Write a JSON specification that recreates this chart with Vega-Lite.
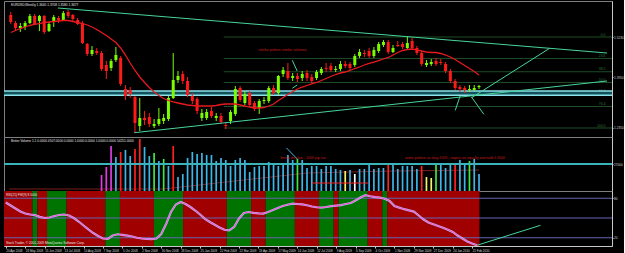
{
"$schema":"https://vega.github.io/schema/vega-lite/v6.json",
"background":"#000000",
"padding":0,
"spacing":0,
"bounds":"flush",
"config":{"font":"Liberation Sans","view":{"stroke":"#7f7f7f","strokeWidth":1},
"axis":{"grid":false,"labelFont":"Liberation Sans","labelFontSize":3.2,"labelColor":"#d0d0d0","domainColor":"#c8c8c8","tickColor":"#c8c8c8","tickSize":1,"labelPadding":0.5,"title":null,"labelOverlap":false,"labelBound":false,"labelFlush":false}},
"resolve":{"scale":{"x":"independent","y":"independent","color":"independent"},"axis":{"x":"independent","y":"independent"}},
"datasets":{
"candles":[
{"d":"2008-04-20","o":1.5936,"h":1.6032,"l":1.5650,"c":1.5713,"ma":1.5379,"osc":73.6},
{"d":"2008-04-27","o":1.5681,"h":1.5745,"l":1.5458,"c":1.5522,"ma":1.5442,"osc":69.0},
{"d":"2008-05-04","o":1.5522,"h":1.5681,"l":1.5395,"c":1.5586,"ma":1.5506,"osc":64.4},
{"d":"2008-05-11","o":1.5554,"h":1.5745,"l":1.5458,"c":1.5681,"ma":1.5554,"osc":59.9},
{"d":"2008-05-18","o":1.5681,"h":1.5968,"l":1.5650,"c":1.5904,"ma":1.5602,"osc":56.9},
{"d":"2008-05-25","o":1.5904,"h":1.5968,"l":1.5618,"c":1.5650,"ma":1.5634,"osc":55.3},
{"d":"2008-06-01","o":1.5745,"h":1.5936,"l":1.5427,"c":1.5904,"ma":1.5665,"osc":54.3},
{"d":"2008-06-08","o":1.5904,"h":1.5936,"l":1.5331,"c":1.5395,"ma":1.5697,"osc":51.8},
{"d":"2008-06-15","o":1.5427,"h":1.5713,"l":1.5395,"c":1.5650,"ma":1.5713,"osc":50.0},
{"d":"2008-06-22","o":1.5713,"h":1.5936,"l":1.5554,"c":1.5872,"ma":1.5729,"osc":50.8},
{"d":"2008-06-29","o":1.5841,"h":1.5904,"l":1.5681,"c":1.5777,"ma":1.5745,"osc":53.1},
{"d":"2008-07-06","o":1.5777,"h":1.6064,"l":1.5745,"c":1.6000,"ma":1.5761,"osc":54.6},
{"d":"2008-07-13","o":1.6032,"h":1.6095,"l":1.5841,"c":1.5904,"ma":1.5761,"osc":55.3},
{"d":"2008-07-20","o":1.5936,"h":1.5968,"l":1.5745,"c":1.5809,"ma":1.5729,"osc":53.8},
{"d":"2008-07-27","o":1.5777,"h":1.5841,"l":1.5618,"c":1.5650,"ma":1.5697,"osc":50.0},
{"d":"2008-08-03","o":1.5681,"h":1.5745,"l":1.5013,"c":1.5045,"ma":1.5665,"osc":44.7},
{"d":"2008-08-10","o":1.5013,"h":1.5045,"l":1.4631,"c":1.4694,"ma":1.5618,"osc":38.6},
{"d":"2008-08-17","o":1.4694,"h":1.4949,"l":1.4631,"c":1.4822,"ma":1.5554,"osc":32.6},
{"d":"2008-08-24","o":1.4790,"h":1.4885,"l":1.4662,"c":1.4726,"ma":1.5474,"osc":27.2},
{"d":"2008-08-31","o":1.4726,"h":1.4790,"l":1.4153,"c":1.4217,"ma":1.5379,"osc":22.7,"v":16000,"vt":"cc"},
{"d":"2008-09-07","o":1.4344,"h":1.4471,"l":1.3898,"c":1.4153,"ma":1.5283,"osc":18.9,"v":24000,"vt":"cc"},
{"d":"2008-09-14","o":1.4248,"h":1.4535,"l":1.4153,"c":1.4471,"ma":1.5172,"osc":18.4,"v":45000,"vt":"cc"},
{"d":"2008-09-21","o":1.4503,"h":1.4917,"l":1.4439,"c":1.4662,"ma":1.5060,"osc":23.4,"v":34000,"vt":"n"},
{"d":"2008-09-28","o":1.4567,"h":1.4631,"l":1.3675,"c":1.3739,"ma":1.4885,"osc":25.3,"v":39000,"vt":"cl"},
{"d":"2008-10-05","o":1.3580,"h":1.3707,"l":1.3229,"c":1.3357,"ma":1.4662,"osc":24.5,"v":41000,"vt":"n"},
{"d":"2008-10-12","o":1.3548,"h":1.3643,"l":1.3293,"c":1.3420,"ma":1.4408,"osc":23.3,"v":35000,"vt":"n"},
{"d":"2008-10-19","o":1.3325,"h":1.3357,"l":1.2178,"c":1.2497,"ma":1.4169,"osc":21.9,"v":42000,"vt":"cl"},
{"d":"2008-10-26","o":1.2401,"h":1.3293,"l":1.2242,"c":1.2656,"ma":1.3962,"osc":20.0,"v":52000,"vt":"cl"},
{"d":"2008-11-02","o":1.2656,"h":1.2879,"l":1.2433,"c":1.2592,"ma":1.3787,"osc":18.9,"v":44000,"vt":"n"},
{"d":"2008-11-09","o":1.2688,"h":1.2815,"l":1.2370,"c":1.2465,"ma":1.3627,"osc":18.1,"v":35000,"vt":"n"},
{"d":"2008-11-16","o":1.2401,"h":1.2624,"l":1.2338,"c":1.2465,"ma":1.3484,"osc":17.8,"v":38000,"vt":"ch"},
{"d":"2008-11-23","o":1.2465,"h":1.2975,"l":1.2401,"c":1.2624,"ma":1.3373,"osc":18.9,"v":30000,"vt":"n"},
{"d":"2008-11-30","o":1.2561,"h":1.2783,"l":1.2465,"c":1.2656,"ma":1.3277,"osc":25.7,"v":32000,"vt":"ch"},
{"d":"2008-12-07","o":1.2624,"h":1.3357,"l":1.2561,"c":1.3293,"ma":1.3213,"osc":40.9,"v":25000,"vt":"n"},
{"d":"2008-12-14","o":1.3293,"h":1.4726,"l":1.3261,"c":1.3866,"ma":1.3166,"osc":59.1,"v":45000,"vt":"cl"},
{"d":"2008-12-21","o":1.3866,"h":1.4153,"l":1.3771,"c":1.3994,"ma":1.3134,"osc":70.5,"v":14000,"vt":"n"},
{"d":"2008-12-28","o":1.4057,"h":1.4153,"l":1.3739,"c":1.3834,"ma":1.3102,"osc":74.3,"v":17000,"vt":"n"},
{"d":"2009-01-04","o":1.3834,"h":1.3962,"l":1.3325,"c":1.3389,"ma":1.3070,"osc":71.3,"v":33000,"vt":"n"},
{"d":"2009-01-11","o":1.3357,"h":1.3452,"l":1.3102,"c":1.3197,"ma":1.3054,"osc":66.7,"v":39000,"vt":"n"},
{"d":"2009-01-18","o":1.3261,"h":1.3325,"l":1.2783,"c":1.2879,"ma":1.3038,"osc":61.4,"v":37000,"vt":"n"},
{"d":"2009-01-25","o":1.2656,"h":1.2943,"l":1.2561,"c":1.2815,"ma":1.3038,"osc":55.3,"v":38000,"vt":"n"},
{"d":"2009-02-01","o":1.2656,"h":1.2943,"l":1.2592,"c":1.2847,"ma":1.3038,"osc":48.8,"v":36000,"vt":"n"},
{"d":"2009-02-08","o":1.2879,"h":1.3006,"l":1.2656,"c":1.2720,"ma":1.3038,"osc":43.9,"v":36000,"vt":"n"},
{"d":"2009-02-15","o":1.2656,"h":1.2815,"l":1.2561,"c":1.2720,"ma":1.3054,"osc":39.7,"v":30000,"vt":"n"},
{"d":"2009-02-22","o":1.2720,"h":1.2815,"l":1.2465,"c":1.2529,"ma":1.3086,"osc":35.6,"v":33000,"vt":"n"},
{"d":"2009-03-01","o":1.2433,"h":1.2529,"l":1.2306,"c":1.2401,"ma":1.3102,"osc":32.1,"v":31000,"vt":"n"},
{"d":"2009-03-08","o":1.2561,"h":1.2911,"l":1.2465,"c":1.2847,"ma":1.3102,"osc":31.3,"v":25000,"vt":"n"},
{"d":"2009-03-15","o":1.2783,"h":1.3675,"l":1.2720,"c":1.3580,"ma":1.3102,"osc":36.4,"v":31000,"vt":"n"},
{"d":"2009-03-22","o":1.3611,"h":1.3675,"l":1.3166,"c":1.3229,"ma":1.3070,"osc":49.3,"v":33000,"vt":"n"},
{"d":"2009-03-29","o":1.3134,"h":1.3516,"l":1.3070,"c":1.3420,"ma":1.3038,"osc":57.6,"v":31000,"vt":"n"},
{"d":"2009-04-05","o":1.3452,"h":1.3516,"l":1.3006,"c":1.3070,"ma":1.3006,"osc":59.1,"v":19000,"vt":"n"},
{"d":"2009-04-12","o":1.3134,"h":1.3197,"l":1.2879,"c":1.2943,"ma":1.2975,"osc":57.9,"v":24000,"vt":"n"},
{"d":"2009-04-19","o":1.2975,"h":1.3261,"l":1.2783,"c":1.3197,"ma":1.2975,"osc":56.9,"v":25000,"vt":"n"},
{"d":"2009-04-26","o":1.3197,"h":1.3325,"l":1.3102,"c":1.3229,"ma":1.2990,"osc":56.7,"v":25000,"vt":"n"},
{"d":"2009-05-03","o":1.3197,"h":1.3675,"l":1.3134,"c":1.3611,"ma":1.3038,"osc":59.1,"v":29000,"vt":"n"},
{"d":"2009-05-10","o":1.3611,"h":1.3707,"l":1.3389,"c":1.3452,"ma":1.3102,"osc":62.2,"v":27000,"vt":"n"},
{"d":"2009-05-17","o":1.3452,"h":1.4025,"l":1.3389,"c":1.3994,"ma":1.3213,"osc":65.2,"v":25000,"vt":"n"},
{"d":"2009-05-24","o":1.4057,"h":1.4280,"l":1.3962,"c":1.4185,"ma":1.3309,"osc":68.2,"v":26000,"vt":"n"},
{"d":"2009-05-31","o":1.4153,"h":1.4408,"l":1.3866,"c":1.3930,"ma":1.3404,"osc":70.2,"v":36000,"vt":"n"},
{"d":"2009-06-07","o":1.3930,"h":1.4089,"l":1.3834,"c":1.3994,"ma":1.3500,"osc":71.7,"v":31000,"vt":"n"},
{"d":"2009-06-14","o":1.3994,"h":1.4089,"l":1.3803,"c":1.3898,"ma":1.3580,"osc":71.3,"v":32000,"vt":"ch"},
{"d":"2009-06-21","o":1.3930,"h":1.4153,"l":1.3834,"c":1.4057,"ma":1.3643,"osc":70.8,"v":31000,"vt":"n"},
{"d":"2009-06-28","o":1.4089,"h":1.4185,"l":1.3834,"c":1.3930,"ma":1.3691,"osc":69.3,"v":23000,"vt":"n"},
{"d":"2009-07-05","o":1.3962,"h":1.4057,"l":1.3771,"c":1.3834,"ma":1.3739,"osc":67.5,"v":25000,"vt":"n"},
{"d":"2009-07-12","o":1.3930,"h":1.4185,"l":1.3866,"c":1.4121,"ma":1.3787,"osc":66.3,"v":25000,"vt":"n"},
{"d":"2009-07-19","o":1.4089,"h":1.4280,"l":1.4025,"c":1.4217,"ma":1.3850,"osc":65.7,"v":22000,"vt":"n"},
{"d":"2009-07-26","o":1.4248,"h":1.4408,"l":1.4121,"c":1.4217,"ma":1.3914,"osc":66.7,"v":25000,"vt":"n"},
{"d":"2009-08-02","o":1.4312,"h":1.4408,"l":1.4121,"c":1.4185,"ma":1.3978,"osc":68.1,"v":25000,"vt":"n"},
{"d":"2009-08-09","o":1.4185,"h":1.4312,"l":1.4121,"c":1.4217,"ma":1.4041,"osc":68.9,"v":22000,"vt":"n"},
{"d":"2009-08-16","o":1.4217,"h":1.4471,"l":1.4153,"c":1.4376,"ma":1.4089,"osc":69.6,"v":21000,"vt":"n"},
{"d":"2009-08-23","o":1.4376,"h":1.4471,"l":1.4248,"c":1.4312,"ma":1.4121,"osc":71.3,"v":20000,"vt":"lo"},
{"d":"2009-08-30","o":1.4376,"h":1.4439,"l":1.4185,"c":1.4248,"ma":1.4169,"osc":72.8,"v":21000,"vt":"n"},
{"d":"2009-09-06","o":1.4344,"h":1.4694,"l":1.4280,"c":1.4631,"ma":1.4232,"osc":76.6,"v":17000,"vt":"lc"},
{"d":"2009-09-13","o":1.4631,"h":1.4853,"l":1.4567,"c":1.4758,"ma":1.4280,"osc":81.2,"v":22000,"vt":"n"},
{"d":"2009-09-20","o":1.4726,"h":1.4822,"l":1.4599,"c":1.4694,"ma":1.4344,"osc":84.6,"v":22000,"vt":"n"},
{"d":"2009-09-27","o":1.4790,"h":1.4885,"l":1.4567,"c":1.4631,"ma":1.4392,"osc":83.0,"v":27000,"vt":"n"},
{"d":"2009-10-04","o":1.4631,"h":1.4917,"l":1.4567,"c":1.4822,"ma":1.4439,"osc":81.8,"v":22000,"vt":"n"},
{"d":"2009-10-11","o":1.4790,"h":1.5076,"l":1.4726,"c":1.5013,"ma":1.4487,"osc":81.0,"v":23000,"vt":"n"},
{"d":"2009-10-18","o":1.4981,"h":1.5140,"l":1.4917,"c":1.5076,"ma":1.4535,"osc":79.2,"v":23000,"vt":"n"},
{"d":"2009-10-25","o":1.5076,"h":1.5140,"l":1.4694,"c":1.4758,"ma":1.4583,"osc":75.8,"v":27000,"vt":"cl"},
{"d":"2009-11-01","o":1.4758,"h":1.4981,"l":1.4726,"c":1.4885,"ma":1.4662,"osc":68.2,"v":27000,"vt":"n"},
{"d":"2009-11-08","o":1.4981,"h":1.5108,"l":1.4917,"c":1.4949,"ma":1.4742,"osc":65.7,"v":22000,"vt":"n"},
{"d":"2009-11-15","o":1.5013,"h":1.5076,"l":1.4853,"c":1.4917,"ma":1.4806,"osc":63.4,"v":25000,"vt":"n"},
{"d":"2009-11-22","o":1.4885,"h":1.5267,"l":1.4853,"c":1.5045,"ma":1.4837,"osc":61.6,"v":25000,"vt":"n"},
{"d":"2009-11-29","o":1.5108,"h":1.5204,"l":1.4853,"c":1.4885,"ma":1.4853,"osc":59.7,"v":25000,"vt":"n"},
{"d":"2009-12-06","o":1.4885,"h":1.4949,"l":1.4662,"c":1.4726,"ma":1.4822,"osc":53.8,"v":22000,"vt":"n"},
{"d":"2009-12-13","o":1.4726,"h":1.4790,"l":1.4312,"c":1.4376,"ma":1.4790,"osc":47.7,"v":25000,"vt":"cl"},
{"d":"2009-12-20","o":1.4344,"h":1.4503,"l":1.4280,"c":1.4408,"ma":1.4758,"osc":43.2,"v":14000,"vt":"lo"},
{"d":"2009-12-27","o":1.4376,"h":1.4535,"l":1.4312,"c":1.4439,"ma":1.4742,"osc":40.5,"v":13000,"vt":"lo"},
{"d":"2010-01-03","o":1.4471,"h":1.4567,"l":1.4312,"c":1.4376,"ma":1.4742,"osc":37.9,"v":27000,"vt":"ch"},
{"d":"2010-01-10","o":1.4439,"h":1.4535,"l":1.4344,"c":1.4408,"ma":1.4710,"osc":35.3,"v":26000,"vt":"n"},
{"d":"2010-01-17","o":1.4376,"h":1.4439,"l":1.4089,"c":1.4153,"ma":1.4662,"osc":32.3,"v":23000,"vt":"n"},
{"d":"2010-01-24","o":1.4153,"h":1.4217,"l":1.3771,"c":1.3834,"ma":1.4599,"osc":28.8,"v":27000,"vt":"n"},
{"d":"2010-01-31","o":1.3834,"h":1.3898,"l":1.3548,"c":1.3611,"ma":1.4519,"osc":23.4,"v":27000,"vt":"cl"},
{"d":"2010-02-07","o":1.3643,"h":1.3707,"l":1.3484,"c":1.3580,"ma":1.4424,"osc":18.9,"v":31000,"vt":"n"},
{"d":"2010-02-14","o":1.3611,"h":1.3675,"l":1.3452,"c":1.3548,"ma":1.4328,"osc":14.3,"v":26000,"vt":"n"},
{"d":"2010-02-21","o":1.3548,"h":1.3707,"l":1.3484,"c":1.3580,"ma":1.4232,"osc":11.3,"v":30000,"vt":"ch"},
{"d":"2010-02-28","o":1.3548,"h":1.3707,"l":1.3516,"c":1.3611,"ma":1.4137,"osc":8.6,"v":32000,"vt":"n"},
{"d":"2010-03-07","o":1.3640,"h":1.3708,"l":1.3580,"c":1.3677,"ma":1.4025,"v":17000,"vt":"n"}
],
"fib":[
{"lv":"0.0","p":1.5236,"from":"2009-02-26"},
{"lv":"23.6","p":1.4552,"from":"2009-02-26"},
{"lv":"38.2","p":1.4129,"from":"2009-02-26"},
{"lv":"50.0","p":1.3787,"from":"2009-02-26"},
{"lv":"61.8","p":1.3445,"from":"2009-02-26"},
{"lv":"76.4","p":1.3022,"from":"2009-02-26"},
{"lv":"100.0","p":1.2338,"from":"2009-02-26"}
],
"tl":[
{"id":"upper","d":"2008-06-28T00:00:00Z","p":1.6159},
{"id":"upper","d":"2010-09-10T12:00:00Z","p":1.4726},
{"id":"lower","d":"2008-10-18T00:00:00Z","p":1.2188},
{"id":"lower","d":"2010-09-10T12:00:00Z","p":1.3834},
{"id":"a","d":"2010-01-31T05:00:00Z","p":1.2901},
{"id":"a","d":"2010-02-07T08:00:00Z","p":1.3357},
{"id":"b","d":"2010-02-24T00:00:00Z","p":1.3302},
{"id":"b","d":"2010-06-18T12:00:00Z","p":1.4876},
{"id":"c","d":"2010-02-24T00:00:00Z","p":1.3325},
{"id":"c","d":"2010-03-14T02:00:00Z","p":1.2774},
{"id":"n1","d":"2009-06-06T10:00:00Z","p":1.4494},
{"id":"n1","d":"2009-06-13T14:00:00Z","p":1.4153},
{"id":"n2","d":"2009-06-06T10:00:00Z","p":1.3602},
{"id":"n2","d":"2009-06-13T14:00:00Z","p":1.3707}
],
"vma":[
{"d":"2008-04-17T10:00:00Z","v":2000},
{"d":"2008-11-30T00:00:00Z","v":2000},
{"d":"2009-03-01T00:00:00Z","v":9000},
{"d":"2009-06-28T00:00:00Z","v":18000},
{"d":"2009-11-01T00:00:00Z","v":20000},
{"d":"2010-03-07T00:00:00Z","v":21000}
],
"vseg":[
{"id":"g","d":"2009-05-29T00:00:00Z","v":43000},
{"id":"g","d":"2009-06-13T17:00:00Z","v":32000},
{"id":"t","d":"2009-07-05T05:00:00Z","v":8000},
{"id":"t","d":"2009-09-26T05:00:00Z","v":8000}
],
"bands":[
{"from":"2008-04-16T12:00:00Z","to":"2008-05-28T12:00:00Z","s":"bear"},
{"from":"2008-05-28T12:00:00Z","to":"2008-06-04T12:00:00Z","s":"bull"},
{"from":"2008-06-04T12:00:00Z","to":"2008-06-18T12:00:00Z","s":"bear"},
{"from":"2008-06-18T12:00:00Z","to":"2008-07-16T12:00:00Z","s":"bull"},
{"from":"2008-07-16T12:00:00Z","to":"2008-09-10T12:00:00Z","s":"bear"},
{"from":"2008-09-10T12:00:00Z","to":"2008-10-01T12:00:00Z","s":"bull"},
{"from":"2008-10-01T12:00:00Z","to":"2008-11-19T12:00:00Z","s":"bear"},
{"from":"2008-11-19T12:00:00Z","to":"2008-12-31T12:00:00Z","s":"bull"},
{"from":"2008-12-31T12:00:00Z","to":"2009-03-04T12:00:00Z","s":"bear"},
{"from":"2009-03-04T12:00:00Z","to":"2009-04-08T12:00:00Z","s":"bull"},
{"from":"2009-04-08T12:00:00Z","to":"2009-04-29T12:00:00Z","s":"bear"},
{"from":"2009-04-29T12:00:00Z","to":"2009-06-10T12:00:00Z","s":"bull"},
{"from":"2009-06-10T12:00:00Z","to":"2009-07-15T12:00:00Z","s":"bear"},
{"from":"2009-07-15T12:00:00Z","to":"2009-08-05T12:00:00Z","s":"bull"},
{"from":"2009-08-05T12:00:00Z","to":"2009-08-12T12:00:00Z","s":"bear"},
{"from":"2009-08-12T12:00:00Z","to":"2009-09-23T12:00:00Z","s":"bull"},
{"from":"2009-09-23T12:00:00Z","to":"2009-10-14T12:00:00Z","s":"bear"},
{"from":"2009-10-14T12:00:00Z","to":"2009-10-21T12:00:00Z","s":"bull"},
{"from":"2009-10-21T12:00:00Z","to":"2010-03-03T12:00:00Z","s":"bear"}
],
"oseg":[
{"d":"2010-02-28T00:00:00Z","v":8.6},
{"d":"2010-05-30T10:00:00Z","v":38.9}
]
},
"vconcat":[
{
"width":608,"height":136,
"layer":[
{"data":{"name":"fib"},"mark":{"type":"rule","color":"#1e4d26","strokeWidth":1,"clip":true},
"encoding":{"x":{"field":"from","type":"temporal","scale":{"type":"utc","domain":[{"year":2008,"month":4,"date":17,"hours":10,"utc":true},{"year":2010,"month":9,"date":10,"hours":12,"utc":true}]},"axis":null},
"x2":{"datum":{"year":2010,"month":9,"date":30,"utc":true}},
"y":{"field":"p","type":"quantitative","scale":{"domain":[1.2051,1.6382],"nice":false,"zero":false}}}},
{"data":{"name":"fib"},"mark":{"type":"text","align":"right","baseline":"bottom","fontSize":3.3,"color":"#2f7d3a","dy":-0.3},
"encoding":{"x":{"datum":{"year":2010,"month":9,"date":8,"utc":true},"type":"temporal","scale":{"type":"utc","domain":[{"year":2008,"month":4,"date":17,"hours":10,"utc":true},{"year":2010,"month":9,"date":10,"hours":12,"utc":true}]},"axis":null},
"y":{"field":"p","type":"quantitative","scale":{"domain":[1.2051,1.6382],"nice":false,"zero":false}},"text":{"field":"lv"}}},
{"data":{"values":[{"lo":1.3380,"hi":1.3516}]},"mark":{"type":"rect","color":"#14525b"},
"encoding":{"y":{"field":"lo","type":"quantitative","scale":{"domain":[1.2051,1.6382],"nice":false,"zero":false}},"y2":{"field":"hi"}}},
{"data":{"values":[{"p":1.3516},{"p":1.3380}]},"mark":{"type":"rule","color":"#8ae2ea","strokeWidth":1.4},
"encoding":{"y":{"field":"p","type":"quantitative","scale":{"domain":[1.2051,1.6382],"nice":false,"zero":false}}}},
{"data":{"name":"candles"},"mark":{"type":"rule","strokeWidth":1},
"encoding":{"x":{"field":"d","type":"temporal","scale":{"type":"utc","domain":[{"year":2008,"month":4,"date":17,"hours":10,"utc":true},{"year":2010,"month":9,"date":10,"hours":12,"utc":true}]},"axis":null},
"y":{"field":"l","type":"quantitative","scale":{"domain":[1.2051,1.6382],"nice":false,"zero":false},"axis":{"orient":"right","values":[1.619,1.587,1.555,1.523,1.491,1.459,1.427,1.395,1.331,1.299,1.267,1.235],"format":".4f","title":null,"labelOverlap":false,"labelFontSize":3.2}},
"y2":{"field":"h"},
"color":{"condition":{"test":"datum.c >= datum.o","value":"#7cfc00"},"value":"#ff1a1a"}}},
{"data":{"name":"candles"},"mark":{"type":"bar","size":3},
"encoding":{"x":{"field":"d","type":"temporal","scale":{"type":"utc","domain":[{"year":2008,"month":4,"date":17,"hours":10,"utc":true},{"year":2010,"month":9,"date":10,"hours":12,"utc":true}]},"axis":null},
"y":{"field":"o","type":"quantitative","scale":{"domain":[1.2051,1.6382],"nice":false,"zero":false}},
"y2":{"field":"c"},
"color":{"condition":{"test":"datum.c >= datum.o","value":"#7cfc00"},"value":"#ff1a1a"}}},
{"data":{"name":"candles"},"mark":{"type":"line","color":"#e8191e","strokeWidth":1.3},
"encoding":{"x":{"field":"d","type":"temporal","scale":{"type":"utc","domain":[{"year":2008,"month":4,"date":17,"hours":10,"utc":true},{"year":2010,"month":9,"date":10,"hours":12,"utc":true}]},"axis":null},
"y":{"field":"ma","type":"quantitative","scale":{"domain":[1.2051,1.6382],"nice":false,"zero":false}}}},
{"data":{"name":"tl"},"mark":{"type":"line","color":"#47d59b","strokeWidth":1,"clip":true},
"encoding":{"x":{"field":"d","type":"temporal","scale":{"type":"utc","domain":[{"year":2008,"month":4,"date":17,"hours":10,"utc":true},{"year":2010,"month":9,"date":10,"hours":12,"utc":true}]},"axis":null},
"y":{"field":"p","type":"quantitative","scale":{"domain":[1.2051,1.6382],"nice":false,"zero":false}},"detail":{"field":"id"}}},
{"data":{"values":[{"t":"EURUSD,Weekly  1.3640 1.3708 1.3580 1.3677"}]},"mark":{"type":"text","align":"left","baseline":"top","fontSize":3.2,"color":"#e6e6e6","dx":2,"dy":1.5},
"encoding":{"x":{"datum":{"year":2008,"month":4,"date":17,"hours":10,"utc":true},"type":"temporal","scale":{"type":"utc","domain":[{"year":2008,"month":4,"date":17,"hours":10,"utc":true},{"year":2010,"month":9,"date":10,"hours":12,"utc":true}]},"axis":null},
"y":{"datum":1.6382,"type":"quantitative","scale":{"domain":[1.2051,1.6382],"nice":false,"zero":false}},"text":{"field":"t"}}},
{"data":{"values":[{"d":"2009-05-23T00:00:00Z","p":1.4822,"t":"similar pattern similar volumes"}]},"mark":{"type":"text","align":"center","baseline":"middle","fontSize":3.6,"color":"#c81c1c"},
"encoding":{"x":{"field":"d","type":"temporal","scale":{"type":"utc","domain":[{"year":2008,"month":4,"date":17,"hours":10,"utc":true},{"year":2010,"month":9,"date":10,"hours":12,"utc":true}]},"axis":null},
"y":{"field":"p","type":"quantitative","scale":{"domain":[1.2051,1.6382],"nice":false,"zero":false}},"text":{"field":"t"}}}
]
},
{
"width":608,"height":54,
"layer":[
{"data":{"name":"vma"},"mark":{"type":"line","color":"#7c1e1e","strokeWidth":1},
"encoding":{"x":{"field":"d","type":"temporal","scale":{"type":"utc","domain":[{"year":2008,"month":4,"date":17,"hours":10,"utc":true},{"year":2010,"month":9,"date":10,"hours":12,"utc":true}]},"axis":null},
"y":{"field":"v","type":"quantitative","scale":{"domain":[0,54000],"nice":false},"axis":{"orient":"right","values":[27000],"format":"d","title":null,"labelOverlap":false,"labelFontSize":3.2}}}},
{"data":{"name":"candles"},"transform":[{"filter":"isValid(datum.v)"}],"mark":{"type":"bar","size":1.7},
"encoding":{"x":{"field":"d","type":"temporal","scale":{"type":"utc","domain":[{"year":2008,"month":4,"date":17,"hours":10,"utc":true},{"year":2010,"month":9,"date":10,"hours":12,"utc":true}]},"axis":null},
"y":{"field":"v","type":"quantitative","scale":{"domain":[0,54000],"nice":false}},
"color":{"field":"vt","type":"nominal","scale":{"domain":["n","cl","ch","lo","cc","lc"],"range":["#3db6e8","#ff2020","#3ee83e","#f4f46a","#e03ce0","#ffffff"]},"legend":null}}},
{"data":{"values":[{"v":27000}]},"mark":{"type":"rule","color":"#3bb3bb","strokeWidth":2},
"encoding":{"y":{"field":"v","type":"quantitative","scale":{"domain":[0,54000],"nice":false}}}},
{"data":{"name":"vseg"},"mark":{"type":"line","strokeWidth":1},
"encoding":{"x":{"field":"d","type":"temporal","scale":{"type":"utc","domain":[{"year":2008,"month":4,"date":17,"hours":10,"utc":true},{"year":2010,"month":9,"date":10,"hours":12,"utc":true}]},"axis":null},
"y":{"field":"v","type":"quantitative","scale":{"domain":[0,54000],"nice":false}},
"color":{"field":"id","type":"nominal","scale":{"domain":["g","t"],"range":["#5ee07e","#7fe6d8"]},"legend":null}}},
{"data":{"values":[{"d":"2009-05-20T10:00:00Z","v":33000,"t":"break this line - 1000 pip run"},{"d":"2009-11-18T05:00:00Z","v":33000,"t":"same pattern as may 2009 - expect an equally oversold 1.5000"}]},
"mark":{"type":"text","align":"left","baseline":"middle","fontSize":3.6,"color":"#c81c1c"},
"encoding":{"x":{"field":"d","type":"temporal","scale":{"type":"utc","domain":[{"year":2008,"month":4,"date":17,"hours":10,"utc":true},{"year":2010,"month":9,"date":10,"hours":12,"utc":true}]},"axis":null},
"y":{"field":"v","type":"quantitative","scale":{"domain":[0,54000],"nice":false}},"text":{"field":"t"}}},
{"data":{"values":[{"t":"Better Volume 1.1  0.0000 4507.0000 0.0000 1.0000 0.0000 1.0000 0.0000 54251.0000"}]},"mark":{"type":"text","align":"left","baseline":"top","fontSize":3.2,"color":"#e6e6e6","dx":2,"dy":1.5},
"encoding":{"x":{"datum":{"year":2008,"month":4,"date":17,"hours":10,"utc":true},"type":"temporal","scale":{"type":"utc","domain":[{"year":2008,"month":4,"date":17,"hours":10,"utc":true},{"year":2010,"month":9,"date":10,"hours":12,"utc":true}]},"axis":null},
"y":{"datum":54000,"type":"quantitative","scale":{"domain":[0,54000],"nice":false}},"text":{"field":"t"}}}
]
},
{
"width":608,"height":55,
"layer":[
{"data":{"name":"bands"},"mark":{"type":"rect","clip":true},
"encoding":{"x":{"field":"from","type":"temporal","scale":{"type":"utc","domain":[{"year":2008,"month":4,"date":17,"hours":10,"utc":true},{"year":2010,"month":9,"date":10,"hours":12,"utc":true}]},
"axis":{"orient":"bottom","values":[1208649600000,1211068800000,1213488000000,1215907200000,1218326400000,1220745600000,1223164800000,1225584000000,1228003200000,1230422400000,1232841600000,1235260800000,1237680000000,1240099200000,1242518400000,1244937600000,1247356800000,1249776000000,1252195200000,1254614400000,1257033600000,1259452800000,1261872000000,1264291200000,1266710400000],"labelExpr":"utcFormat(datum.value, '%-d %b %Y')","labelAlign":"left","labelFontSize":3.0,"tickSize":2,"labelPadding":1,"labelColor":"#dcdcdc","labelOverlap":false,"labelSeparation":0,"title":null}},
"x2":{"field":"to"},
"color":{"field":"s","type":"nominal","scale":{"domain":["bear","bull"],"range":["#a10000","#007400"]},"legend":null}}},
{"data":{"values":[{"v":80},{"v":50},{"v":20}]},"mark":{"type":"rule","color":"#6464b4","strokeWidth":1},
"encoding":{"y":{"field":"v","type":"quantitative","scale":{"domain":[7.5,91],"nice":false,"zero":false},"axis":{"orient":"right","values":[80,50,20],"title":null,"labelOverlap":false,"labelFontSize":3.2}}}},
{"data":{"name":"candles"},"transform":[{"filter":"isValid(datum.osc)"}],"mark":{"type":"line","color":"#b4b4ee","strokeWidth":2.2},
"encoding":{"x":{"field":"d","type":"temporal","scale":{"type":"utc","domain":[{"year":2008,"month":4,"date":17,"hours":10,"utc":true},{"year":2010,"month":9,"date":10,"hours":12,"utc":true}]},
"axis":{"orient":"bottom","values":[1208649600000,1211068800000,1213488000000,1215907200000,1218326400000,1220745600000,1223164800000,1225584000000,1228003200000,1230422400000,1232841600000,1235260800000,1237680000000,1240099200000,1242518400000,1244937600000,1247356800000,1249776000000,1252195200000,1254614400000,1257033600000,1259452800000,1261872000000,1264291200000,1266710400000],"labelExpr":"utcFormat(datum.value, '%-d %b %Y')","labelAlign":"left","labelFontSize":3.0,"tickSize":2,"labelPadding":1,"labelColor":"#dcdcdc","labelOverlap":false,"labelSeparation":0,"title":null}},
"y":{"field":"osc","type":"quantitative","scale":{"domain":[7.5,91],"nice":false,"zero":false}}}},
{"data":{"name":"candles"},"transform":[{"filter":"isValid(datum.osc)"}],"mark":{"type":"line","color":"#ff4ccf","strokeWidth":1},
"encoding":{"x":{"field":"d","type":"temporal","scale":{"type":"utc","domain":[{"year":2008,"month":4,"date":17,"hours":10,"utc":true},{"year":2010,"month":9,"date":10,"hours":12,"utc":true}]},
"axis":{"orient":"bottom","values":[1208649600000,1211068800000,1213488000000,1215907200000,1218326400000,1220745600000,1223164800000,1225584000000,1228003200000,1230422400000,1232841600000,1235260800000,1237680000000,1240099200000,1242518400000,1244937600000,1247356800000,1249776000000,1252195200000,1254614400000,1257033600000,1259452800000,1261872000000,1264291200000,1266710400000],"labelExpr":"utcFormat(datum.value, '%-d %b %Y')","labelAlign":"left","labelFontSize":3.0,"tickSize":2,"labelPadding":1,"labelColor":"#dcdcdc","labelOverlap":false,"labelSeparation":0,"title":null}},
"y":{"field":"osc","type":"quantitative","scale":{"domain":[7.5,91],"nice":false,"zero":false}}}},
{"data":{"name":"oseg"},"mark":{"type":"line","color":"#47d59b","strokeWidth":1},
"encoding":{"x":{"field":"d","type":"temporal","scale":{"type":"utc","domain":[{"year":2008,"month":4,"date":17,"hours":10,"utc":true},{"year":2010,"month":9,"date":10,"hours":12,"utc":true}]},
"axis":{"orient":"bottom","values":[1208649600000,1211068800000,1213488000000,1215907200000,1218326400000,1220745600000,1223164800000,1225584000000,1228003200000,1230422400000,1232841600000,1235260800000,1237680000000,1240099200000,1242518400000,1244937600000,1247356800000,1249776000000,1252195200000,1254614400000,1257033600000,1259452800000,1261872000000,1264291200000,1266710400000],"labelExpr":"utcFormat(datum.value, '%-d %b %Y')","labelAlign":"left","labelFontSize":3.0,"tickSize":2,"labelPadding":1,"labelColor":"#dcdcdc","labelOverlap":false,"labelSeparation":0,"title":null}},
"y":{"field":"v","type":"quantitative","scale":{"domain":[7.5,91],"nice":false,"zero":false}}}},
{"data":{"values":[{"t":"RSI(21) FW(9) 8.5000","v":91}]},"mark":{"type":"text","align":"left","baseline":"top","fontSize":3.2,"color":"#e6e6e6","dx":2,"dy":1.5},
"encoding":{"x":{"datum":{"year":2008,"month":4,"date":17,"hours":10,"utc":true},"type":"temporal","scale":{"type":"utc","domain":[{"year":2008,"month":4,"date":17,"hours":10,"utc":true},{"year":2010,"month":9,"date":10,"hours":12,"utc":true}]},
"axis":{"orient":"bottom","values":[1208649600000,1211068800000,1213488000000,1215907200000,1218326400000,1220745600000,1223164800000,1225584000000,1228003200000,1230422400000,1232841600000,1235260800000,1237680000000,1240099200000,1242518400000,1244937600000,1247356800000,1249776000000,1252195200000,1254614400000,1257033600000,1259452800000,1261872000000,1264291200000,1266710400000],"labelExpr":"utcFormat(datum.value, '%-d %b %Y')","labelAlign":"left","labelFontSize":3.0,"tickSize":2,"labelPadding":1,"labelColor":"#dcdcdc","labelOverlap":false,"labelSeparation":0,"title":null}},
"y":{"field":"v","type":"quantitative","scale":{"domain":[7.5,91],"nice":false,"zero":false}},"text":{"field":"t"}}},
{"data":{"values":[{"t":"Stock Trader, © 2001-2009 MetaQuotes Software Corp.","v":7.5}]},"mark":{"type":"text","align":"left","baseline":"bottom","fontSize":3.2,"color":"#e6e6e6","dx":2,"dy":-1},
"encoding":{"x":{"datum":{"year":2008,"month":4,"date":17,"hours":10,"utc":true},"type":"temporal","scale":{"type":"utc","domain":[{"year":2008,"month":4,"date":17,"hours":10,"utc":true},{"year":2010,"month":9,"date":10,"hours":12,"utc":true}]},
"axis":{"orient":"bottom","values":[1208649600000,1211068800000,1213488000000,1215907200000,1218326400000,1220745600000,1223164800000,1225584000000,1228003200000,1230422400000,1232841600000,1235260800000,1237680000000,1240099200000,1242518400000,1244937600000,1247356800000,1249776000000,1252195200000,1254614400000,1257033600000,1259452800000,1261872000000,1264291200000,1266710400000],"labelExpr":"utcFormat(datum.value, '%-d %b %Y')","labelAlign":"left","labelFontSize":3.0,"tickSize":2,"labelPadding":1,"labelColor":"#dcdcdc","labelOverlap":false,"labelSeparation":0,"title":null}},
"y":{"field":"v","type":"quantitative","scale":{"domain":[7.5,91],"nice":false,"zero":false}},"text":{"field":"t"}}}
]
}
]
}
